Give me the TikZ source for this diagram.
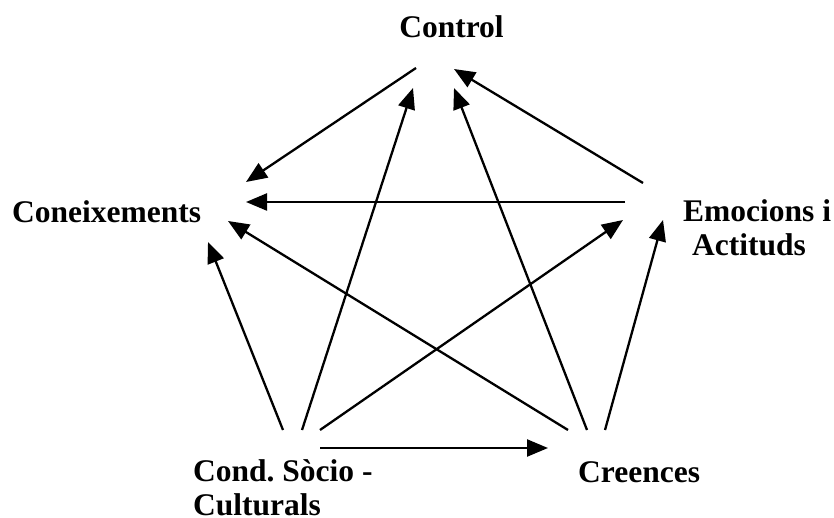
\documentclass[tikz,border=0pt]{standalone}
\usepackage{fontspec}
\setmainfont{Liberation Serif}
\usepackage{tikz}
\usetikzlibrary{positioning,%
  arrows.meta,%
  calc
}

\begin{document}
\begin{tikzpicture}
            [
                x=1pt,y=-1pt,
                label/.style={inner sep=0pt,anchor=base west,align=left,
                    font=\bfseries\fontsize{31.5}{34}\selectfont},
                link/.style={line width=2.3pt,-{Triangle[length=21pt,width=17pt]}}
            ]
            
            \useasboundingbox (0,0) rectangle (834,518);
            
            \node[label,anchor=base] (ctl) at (451.5,38) {Control};
            \node[label] (con) at (12,223) {Coneixements};
            \node[label] (emo) at (683,256) {Emocions i\\\hspace*{9pt}Actituds};
            \node[label] (cond) at (193,515) {Cond.\ Sòcio -\\Culturals};
            \node[label] (cre) at (578,482) {Creences};
            
            % into Coneixements
            \draw[link] ([shift={(-35.5,30)}]ctl.base) -- ([shift={(234,-41)}]con.base west);
            \draw[link] ([shift={(-58,-54)}]emo.base west) -- ([shift={(234,-21)}]con.base west);
            \draw[link] ([shift={(-10,-52)}]cre.base west) -- ([shift={(216,-2)}]con.base west);
            \draw[link] ([shift={(90,-85)}]cond.base west) -- ([shift={(196,19)}]con.base west);
            
            % into Control
            \draw[link] ([shift={(109,-85)}]cond.base west) -- ([shift={(-38.5,50)}]ctl.base);
            \draw[link] ([shift={(9,-52)}]cre.base west) -- ([shift={(2.5,50)}]ctl.base);
            \draw[link] ([shift={(-40,-73)}]emo.base west) -- ([shift={(2.5,31)}]ctl.base);
            
            % into Emocions i Actituds and Creences
            \draw[link] ([shift={(127,-85)}]cond.base west) -- ([shift={(-60,-36)}]emo.base west);
            \draw[link] ([shift={(27,-52)}]cre.base west) -- ([shift={(-20,-36)}]emo.base west);
            \draw[link] ([shift={(127,-67)}]cond.base west) -- ([shift={(-30,-34)}]cre.base west);
        \end{tikzpicture}
\end{document}
